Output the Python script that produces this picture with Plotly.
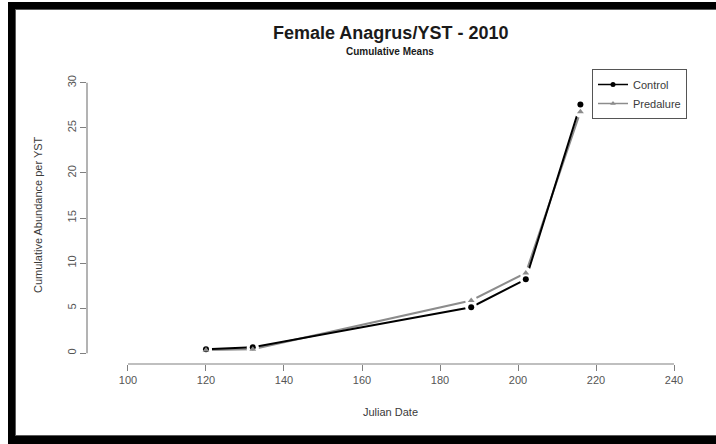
import plotly.graph_objects as go

# Cumulative mean abundance of female Anagrus per yellow sticky trap, 2010
julian_date = [120, 132, 188, 202, 216]
control = [0.45, 0.65, 5.1, 8.2, 27.6]
predalure = [0.35, 0.45, 5.85, 8.9, 26.8]

x_ticks = [100, 120, 140, 160, 180, 200, 220, 240]
y_ticks = [0, 5, 10, 15, 20, 25, 30]

W, H = 716, 444
L, R, T, B = 87, 693, 72, 364
FONT = "Liberation Sans, Arial, Helvetica, sans-serif"
TXT = "#3a3a3a"
TICK_TXT = "#555555"
AX = "#808080"
BLACK = "#000000"
GRAY = "#8c8c8c"


def px(xp):
    return (xp - L) / (R - L)


def py(yp):
    return (B - yp) / (B - T)


fig = go.Figure()

# connecting lines
fig.add_trace(go.Scatter(
    x=julian_date, y=predalure, mode="lines", showlegend=False, hoverinfo="skip",
    line=dict(color=GRAY, width=2), cliponaxis=False))
fig.add_trace(go.Scatter(
    x=julian_date, y=control, mode="lines", showlegend=False, hoverinfo="skip",
    line=dict(color=BLACK, width=2), cliponaxis=False))

# white halos break the lines around each point (type "b" look)
for series in (predalure, control):
    fig.add_trace(go.Scatter(
        x=julian_date, y=series, mode="markers", showlegend=False,
        hoverinfo="skip", cliponaxis=False,
        marker=dict(symbol="circle", size=12, color="white", line=dict(width=0))))

# point symbols
fig.add_trace(go.Scatter(
    x=julian_date, y=control, name="Control", mode="markers", showlegend=False,
    cliponaxis=False, marker=dict(symbol="circle", size=6, color=BLACK)))
fig.add_trace(go.Scatter(
    x=julian_date, y=predalure, name="Predalure", mode="markers", showlegend=False,
    cliponaxis=False, marker=dict(symbol="triangle-up", size=6, color=GRAY)))

# legend keys
fig.add_trace(go.Scatter(
    x=[None], y=[None], name="Control", mode="lines+markers",
    line=dict(color=BLACK, width=1.5), marker=dict(symbol="circle", size=5, color=BLACK)))
fig.add_trace(go.Scatter(
    x=[None], y=[None], name="Predalure", mode="lines+markers",
    line=dict(color=GRAY, width=1.5), marker=dict(symbol="triangle-up", size=5, color=GRAY)))

shapes = []
# axis lines spanning first to last tick
shapes.append(dict(type="line", xref="x", yref="paper", x0=x_ticks[0], x1=x_ticks[-1],
                   y0=0, y1=0, line=dict(color=AX, width=1.2)))
shapes.append(dict(type="line", xref="paper", yref="y", x0=0, x1=0,
                   y0=y_ticks[0], y1=y_ticks[-1], line=dict(color=AX, width=1.2)))


# black frame around the graphic
def rect(x0, y0, x1, y1, color):
    return dict(type="rect", xref="paper", yref="paper", x0=px(x0), x1=px(x1),
                y0=py(y1), y1=py(y0), fillcolor=color, line=dict(width=0), layer="above")


shapes += [
    rect(8, 2, 15, 444, BLACK),
    rect(8, 2, 716, 9, BLACK),
    rect(8, 436, 716, 444, BLACK),
    rect(15, 9, 16, 436, "#5a5a5a"),
    rect(15, 9, 716, 10, "#5a5a5a"),
    rect(15, 435, 716, 436, "#5a5a5a"),
]

annotations = [
    dict(text="<b>Female Anagrus/YST - 2010</b>", x=px(390), y=py(33), xref="paper",
         yref="paper", showarrow=False, xanchor="center", yanchor="middle",
         font=dict(family=FONT, size=18, color="#1a1a1a")),
    dict(text="<b>Cumulative Means</b>", x=px(390), y=py(52), xref="paper",
         yref="paper", showarrow=False, xanchor="center", yanchor="middle",
         font=dict(family=FONT, size=10, color="#1a1a1a")),
    dict(text="Julian Date", x=px(390), y=py(412), xref="paper", yref="paper",
         showarrow=False, xanchor="center", yanchor="middle",
         font=dict(family=FONT, size=11, color=TXT)),
    dict(text="Cumulative Abundance per YST", x=px(38), y=py(215), xref="paper",
         yref="paper", showarrow=False, xanchor="center", yanchor="middle",
         textangle=-90, font=dict(family=FONT, size=11, color=TXT)),
]

fig.update_layout(
    template="none",
    width=W, height=H,
    margin=dict(l=L, r=W - R, t=T, b=H - B, pad=0),
    paper_bgcolor="white", plot_bgcolor="white",
    font=dict(family=FONT, size=11, color=TXT),
    showlegend=True,
    legend=dict(x=px(592), y=py(69), xanchor="left", yanchor="top",
                bordercolor="#555555", borderwidth=1, bgcolor="white",
                font=dict(family=FONT, size=11, color=TXT),
                traceorder="normal", tracegroupgap=0, itemwidth=30),
    xaxis=dict(range=[89.49, 244.87], tickvals=x_ticks, ticktext=[str(v) for v in x_ticks],
               showgrid=False, zeroline=False, showline=False, ticks="outside",
               ticklen=6, tickwidth=1, tickcolor=AX,
               tickfont=dict(family=FONT, size=11, color=TICK_TXT)),
    yaxis=dict(range=[-1.2, 31.2], tickvals=y_ticks, ticktext=[str(v) for v in y_ticks],
               showgrid=False, zeroline=False, showline=False, ticks="outside",
               ticklen=6, tickwidth=1, tickcolor=AX, tickangle=-90,
               tickfont=dict(family=FONT, size=11, color=TICK_TXT)),
    shapes=shapes,
    annotations=annotations,
)

fig.write_html("out.html")
